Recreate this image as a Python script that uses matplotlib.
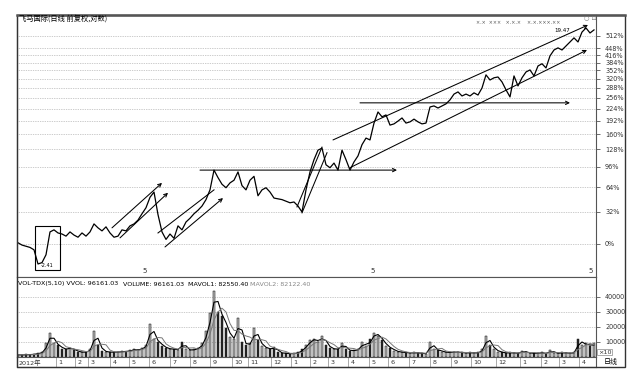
import matplotlib
matplotlib.use('Agg')
import matplotlib.pyplot as plt
import numpy as np
import pandas as pd
from matplotlib.patches import Rectangle
from matplotlib.ticker import NullLocator, NullFormatter

plt.rcParams['font.family'] = ['DejaVu Sans', 'Noto Sans CJK SC']

# ---------------- data ----------------
title_text = '飞马国际(日线 前复权,对数)'

# price change in percent (log-scaled axis), sampled along the time axis
price_pct = [1, -1, -2, -3, -5, -16, -15, -9, 11, 13,
             10, 9, 7, 11, 8, 6, 10, 7, 11, 19,
             15, 12, 16, 10, 6, 7, 13, 12, 17, 19,
             23, 30, 37, 50, 57, 29, 11, 4, 9, 5,
             17, 13, 21, 25, 30, 34, 39, 47, 60, 90,
             78, 68, 63, 70, 74, 87, 66, 60, 74, 80,
             52, 60, 63, 57, 49, 48, 47, 45, 43, 44,
             39, 32, 60, 87, 108, 126, 130, 99, 94, 102,
             90, 126, 108, 90, 104, 115, 137, 151, 147, 186,
             215, 202, 207, 181, 184, 191, 199, 186, 189, 196,
             189, 184, 186, 229, 232, 226, 232, 238, 250, 268,
             275, 262, 268, 262, 272, 265, 288, 335, 316, 324,
             327, 309, 282, 259, 331, 295, 324, 346, 354, 331,
             370, 379, 362, 413, 440, 450, 440, 459, 479, 500,
             479, 531, 554, 526, 543]

volume = [1500, 1200, 1800, 1500, 2000, 2500, 3000, 9000, 16000, 9000,
          8000, 5000, 5500, 6000, 4500, 3500, 3000, 3500, 5000, 17000,
          8000, 4000, 3500, 3000, 3500, 3000, 4000, 3500, 4500, 5000,
          4500, 6000, 8000, 22000, 12000, 10000, 7000, 6000, 5000, 5500,
          4500, 10000, 5000, 4500, 5000, 6000, 9000, 17000, 29000, 44000,
          30000, 27000, 19000, 13000, 12000, 26000, 10000, 8000, 9000, 19000,
          11000, 7000, 6000, 5000, 6500, 3000, 2500, 2500, 2000, 2500,
          3000, 5000, 8000, 11000, 12000, 10000, 14000, 8000, 6000, 5000,
          5500, 9000, 5000, 4000, 4500, 5000, 10000, 7000, 12000, 16000,
          14000, 11000, 7000, 6000, 4000, 3500, 3000, 3000, 2500, 3000,
          2500, 2500, 2000, 10000, 5000, 4500, 3500, 3000, 3000, 3500,
          3000, 3000, 2500, 3000, 2500, 3000, 5000, 14000, 8000, 5000,
          3500, 3000, 2500, 3000, 2500, 2500, 4000, 3000, 2500, 2500,
          2500, 3000, 2000, 4500, 2500, 2500, 3000, 2500, 2500, 3000,
          12000, 8000, 9000, 7000, 9000]

pct_ticks = [0, 32, 64, 96, 128, 160, 192, 224, 256, 288, 320, 352, 384, 416, 448, 512]
vol_ticks = [10000, 20000, 30000, 40000]
month_labels = ['2012年', '1', '2', '3', '4', '5', '6', '7', '8', '9', '10', '11', '12',
                '1', '2', '3', '4', '5', '6', '7', '8', '9', '10', '12', '1', '2', '3', '4']
month_pos = [0, 10, 14.75, 18, 23.5, 28.25, 33.25, 38.5, 43.5, 48.5, 54, 58, 63.75,
             68.75, 73.5, 78, 83, 88.25, 93, 98.25, 103.5, 108.75, 113.75, 120, 126,
             131.25, 135.75, 140.75]
year5_pos = [31.75, 88.75, 143.25]

# ---------------- figure ----------------
W, H = 640, 380
fig = plt.figure(figsize=(6.4, 3.8), dpi=100)

def fx(px):
    return px / W

def fy(py):
    return 1 - py / H

left, right = 17, 596
ax = fig.add_axes([fx(left), fy(277), fx(right - left), (277 - 15) / H])
axv = fig.add_axes([fx(left), fy(357), fx(right - left), (357 - 277) / H])
axd = fig.add_axes([fx(left), fy(367), fx(right - left), (367 - 357) / H])

n = len(price_pct)
xs = np.arange(n)
pv = 100 + np.array(price_pct, dtype=float)

gridc = '#9a9a9a'
labc = '#333333'

# ----- price panel -----
ax.plot(xs, pv, color='black', lw=0.9)
ax.set_yscale('log')
ax.set_ylim(75, 732)
ax.set_xlim(-0.25, 144.5)
ax.yaxis.set_minor_locator(NullLocator())
ax.yaxis.set_minor_formatter(NullFormatter())
ax.set_yticks([100 + p for p in pct_ticks])
ax.set_yticklabels([f'{p}%' for p in pct_ticks])
ax.yaxis.tick_right()
ax.tick_params(axis='y', labelsize=4.7, colors=labc, length=3, width=0.5, pad=3.5)
ax.set_xticks([])
for p in pct_ticks:
    ax.axhline(100 + p, color=gridc, lw=0.5, ls=(0, (1, 1.5)), zorder=0)
for s in ['top', 'bottom', 'left', 'right']:
    ax.spines[s].set_linewidth(0.8)
    ax.spines[s].set_color('#555555')
for xp in year5_pos:
    ax.text(xp, 0.012, '5', transform=ax.get_xaxis_transform(), fontsize=5,
            color=labc, ha='center', va='bottom')

# annotations
lc = 'black'
alw = 0.75

def seg(p0, p1, arrow=False):
    if arrow:
        ax.annotate('', xy=p1, xytext=p0,
                    arrowprops=dict(arrowstyle='->', color=lc, lw=alw,
                                    shrinkA=0, shrinkB=0, mutation_scale=6))
    else:
        ax.plot([p0[0], p1[0]], [p0[1], p1[1]], color=lc, lw=alw)

ax.add_patch(Rectangle((4.25, 80), 6.25, 37, fill=False, ec='black', lw=0.8))
ax.text(7.2, 80.8, '-2.41', fontsize=3.6, ha='center', va='bottom')
seg((23.5, 115), (36, 170), True)
seg((25.5, 105.4), (37.5, 156), True)
seg((35, 110), (49, 160))
seg((36.75, 97.4), (51.25, 149), True)
seg((45.5, 190), (94.75, 190), True)
seg((69.75, 138), (76, 232))
seg((71, 131), (77.25, 221))
seg((78.75, 247), (142.5, 671), True)
seg((83, 194), (142.25, 540), True)
seg((85.5, 341), (138, 341), True)

fig.text(fx(476), fy(22), '×.×  ×××   ×.×.×    ×.×.×××.×× ', fontsize=3.5,
         color='#555555', va='center')
fig.text(fx(584), fy(18), '○ ⊡', fontsize=4.5, color='#777777', va='center')
fig.text(fx(554), fy(31), '19.47', fontsize=4, color='black', va='center')

fig.text(fx(19), fy(19), title_text, fontsize=5.2, color='black', va='center',
         family=['Noto Sans CJK SC', 'DejaVu Sans'])

# ----- volume panel -----
vol = np.array(volume, dtype=float)
up = np.r_[True, np.diff(pv) >= 0]
axv.bar(xs[up], vol[up], width=0.6, color='#bbbbbb', edgecolor='black', lw=0.35)
axv.bar(xs[~up], vol[~up], width=0.6, color='#222222', edgecolor='#222222', lw=0.35)
s = pd.Series(vol)
ma1 = s.rolling(2, min_periods=1).mean()
ma2 = s.rolling(4, min_periods=1).mean()
axv.plot(xs, ma1, color='black', lw=0.8)
axv.plot(xs, ma2, color='#777777', lw=0.7)
axv.set_xlim(-0.25, 144.5)
axv.set_ylim(0, 53300)
axv.set_yticks(vol_ticks)
axv.set_yticklabels([str(v) for v in vol_ticks])
axv.yaxis.tick_right()
axv.tick_params(axis='y', labelsize=4.7, colors=labc, length=3, width=0.5, pad=3.5)
axv.set_xticks([])
for v in vol_ticks:
    axv.axhline(v, color=gridc, lw=0.5, ls=(0, (1, 1.5)), zorder=0)
for sp in ['top', 'bottom', 'left', 'right']:
    axv.spines[sp].set_linewidth(0.8)
    axv.spines[sp].set_color('#555555')

fig.text(fx(18), fy(284), 'VOL-TDX(5,10) VVOL: 96161.03', fontsize=4.6, va='center')
fig.text(fx(123), fy(284), 'VOLUME: 96161.03', fontsize=4.6, va='center')
fig.text(fx(188), fy(284), 'MAVOL1: 82550.40', fontsize=4.6, va='center')
fig.text(fx(250), fy(284), 'MAVOL2: 82122.40', fontsize=4.6, va='center', color='#888888')
fig.text(fx(598), fy(352), '×10', fontsize=4.6, va='center', color=labc,
         bbox=dict(boxstyle='square,pad=0.1', fc='white', ec='#888888', lw=0.5))

# ----- date row -----
axd.set_xlim(-0.25, 144.5)
axd.set_ylim(0, 1)
axd.set_xticks([])
axd.set_yticks([])
for sp in ['top', 'bottom', 'left', 'right']:
    axd.spines[sp].set_linewidth(0.8)
    axd.spines[sp].set_color('#555555')
for lab, p in zip(month_labels, month_pos):
    if p > 0:
        axd.axvline(p - 0.5, color='#888888', lw=0.5)
    axd.text(p + 0.1, 0.45, lab, fontsize=4.6, color=labc, va='center', ha='left',
             family=['DejaVu Sans', 'Noto Sans CJK SC'])
fig.text(fx(604), fy(362), '日线', fontsize=5, va='center', color='black',
         family=['Noto Sans CJK SC', 'DejaVu Sans'])

# outer frame
fig.add_artist(Rectangle((fx(17), fy(367)), fx(625 - 17), (367 - 15) / H,
                         transform=fig.transFigure, fill=False, ec='#333333', lw=1.0))
fig.add_artist(plt.Line2D([fx(17), fx(625)], [fy(15), fy(15)], transform=fig.transFigure,
                          color='#555555', lw=1.8))

fig.savefig('out.png', dpi=100)
